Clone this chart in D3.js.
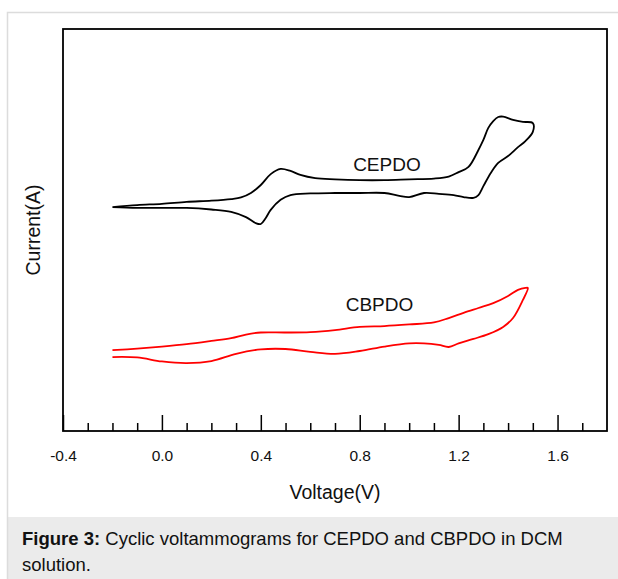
<!DOCTYPE html>
<html><head><meta charset="utf-8">
<script src="https://cdn.jsdelivr.net/npm/d3@7"></script>
<style>
html,body{margin:0;padding:0;background:#fff;}
svg{display:block;font-family:"Liberation Sans",Arial,sans-serif;}
</style></head>
<body>
<svg id="chart" width="618" height="579"></svg>
<script>
// ---- data ----
const xTicksMajor = [-0.4, 0.0, 0.4, 0.8, 1.2, 1.6];
const xTicksMinor = [-0.3,-0.2,-0.1,0.1,0.2,0.3,0.5,0.6,0.7,0.9,1.0,1.1,1.3,1.4,1.5,1.7];
const xTickLabels = ["-0.4","0.0","0.4","0.8","1.2","1.6"];

// CEPDO anodic (forward) sweep
const cepdoFwdV = [-0.2,-0.1,0.0,0.1,0.2,0.28,0.32,0.36,0.40,0.44,0.48,0.52,0.56,0.62,0.7,0.8,0.9,1.0,1.1,1.16,1.2,1.24,1.28,1.30,1.32,1.34,1.36,1.38,1.42,1.46,1.5];
const cepdoFwdI = [55.7,56.2,56.5,57.0,57.3,57.7,58.1,59.2,61.2,63.9,65.2,64.7,63.7,62.9,62.6,62.4,62.4,62.6,62.8,63.3,64.4,65.7,69.9,72.4,75.4,77.1,78.1,78.2,77.4,76.9,76.6];
// CEPDO cathodic (reverse) sweep
const cepdoRevV = [1.5,1.47,1.44,1.40,1.36,1.33,1.30,1.28,1.26,1.22,1.18,1.12,1.06,1.0,0.96,0.9,0.8,0.7,0.6,0.52,0.48,0.44,0.42,0.40,0.38,0.34,0.28,0.2,0.1,0.0,-0.1,-0.2];
const cepdoRevI = [74.4,72.1,70.6,68.4,66.7,64.2,60.9,58.7,58.0,58.2,58.7,59.0,59.2,58.2,58.5,59.2,59.2,59.2,59.1,58.7,57.5,55.0,53.0,51.5,51.7,53.2,54.5,55.1,55.5,55.5,55.5,55.7];

// CBPDO forward sweep
const cbpdoFwdV = [-0.2,-0.1,0.0,0.1,0.2,0.28,0.34,0.4,0.5,0.6,0.7,0.8,0.9,1.0,1.1,1.16,1.22,1.28,1.34,1.40,1.44,1.47,1.48];
const cbpdoFwdI = [20.1,20.5,21.0,21.6,22.4,23.1,24.0,24.5,24.5,24.6,25.1,25.9,26.1,26.5,27.0,28.1,29.4,30.6,31.8,33.6,35.1,35.6,35.6];
// CBPDO reverse sweep
const cbpdoRevV = [1.48,1.46,1.42,1.38,1.32,1.26,1.2,1.16,1.12,1.06,1.0,0.9,0.8,0.7,0.6,0.5,0.4,0.3,0.2,0.1,0.0,-0.1,-0.2];
const cbpdoRevI = [35.6,32.6,28.1,25.9,24.1,22.9,21.8,20.9,21.4,21.8,21.8,21.0,19.9,19.2,19.7,20.4,20.3,19.2,17.4,16.9,17.3,18.3,18.4];

const seriesNames = ["CEPDO","CBPDO"];
const seriesColors = ["#000000","#ff0000"];

// ---- layout ----
const svg = d3.select("#chart");
const mLeft = 63, mRight = 607, mTop = 29, mBottom = 431;

// outer panel
svg.append("rect").attr("x",7).attr("y",517).attr("width",611).attr("height",62).attr("fill","#ebebeb");
svg.append("path").attr("d","M7.5,579 V12.5 H618").attr("fill","none").attr("stroke","#dcdcdc").attr("stroke-width",1.5);

const x = d3.scaleLinear().domain([-0.4,1.8]).range([mLeft,mRight]);
const y = d3.scaleLinear().domain([0,100]).range([mBottom,mTop]);

// ticks (inward)
const axisMajor = d3.axisBottom(x).tickValues(xTicksMajor).tickSizeInner(-16).tickSizeOuter(0).tickFormat((d,i)=>xTickLabels[i]);
const axisMinor = d3.axisBottom(x).tickValues(xTicksMinor).tickSizeInner(-8).tickSizeOuter(0).tickFormat("");
const gMin = svg.append("g").attr("transform",`translate(0,${mBottom})`).call(axisMinor);
const gMaj = svg.append("g").attr("transform",`translate(0,${mBottom})`).call(axisMajor);
[gMin,gMaj].forEach(g=>{
  g.select(".domain").remove();
  g.selectAll("line").attr("stroke","#000").attr("stroke-width",1.5);
});
gMaj.selectAll("text").attr("y",30).attr("dy",0).attr("font-size",15.5).attr("fill","#111")
  .attr("font-family","Liberation Sans, Arial, sans-serif");

// frame
svg.append("rect").attr("x",mLeft).attr("y",mTop).attr("width",mRight-mLeft).attr("height",mBottom-mTop)
  .attr("fill","none").attr("stroke","#000").attr("stroke-width",1.8);

// curves
const line = d3.line().x(d=>x(d[0])).y(d=>y(d[1])).curve(d3.curveCatmullRom.alpha(0.5));
const cepdoPts = cepdoFwdV.map((v,i)=>[v,cepdoFwdI[i]]).concat(cepdoRevV.map((v,i)=>[v,cepdoRevI[i]]));
const cbpdoPts = cbpdoFwdV.map((v,i)=>[v,cbpdoFwdI[i]]).concat(cbpdoRevV.map((v,i)=>[v,cbpdoRevI[i]]).slice(1));
svg.append("path").attr("d",line(cepdoPts)).attr("fill","none").attr("stroke",seriesColors[0]).attr("stroke-width",1.8).attr("stroke-linejoin","round");
svg.append("path").attr("d",line(cbpdoPts)).attr("fill","none").attr("stroke",seriesColors[1]).attr("stroke-width",1.8).attr("stroke-linejoin","round");

// labels
svg.append("text").attr("x",x(0.91)).attr("y",y(64.7)).attr("text-anchor","middle").attr("font-size",19).attr("fill","#111").text(seriesNames[0]);
svg.append("text").attr("x",x(0.88)).attr("y",y(29.9)).attr("text-anchor","middle").attr("font-size",19).attr("fill","#111").text(seriesNames[1]);

// axis titles
svg.append("text").attr("x",(mLeft+mRight)/2).attr("y",499).attr("text-anchor","middle").attr("font-size",19.5).attr("fill","#111").text("Voltage(V)");
svg.append("text").attr("transform",`translate(40,${(mTop+mBottom)/2}) rotate(-90)`).attr("text-anchor","middle").attr("font-size",19.5).attr("fill","#111").text("Current(A)");

// caption
const cap = svg.append("text").attr("x",22).attr("y",545).attr("font-size",18.5).attr("fill","#111");
cap.append("tspan").attr("font-weight","bold").text("Figure 3:");
cap.append("tspan").text(" Cyclic voltammograms for CEPDO and CBPDO in DCM");
svg.append("text").attr("x",22).attr("y",571).attr("font-size",18.5).attr("fill","#111").text("solution.");
</script>
</body></html>
